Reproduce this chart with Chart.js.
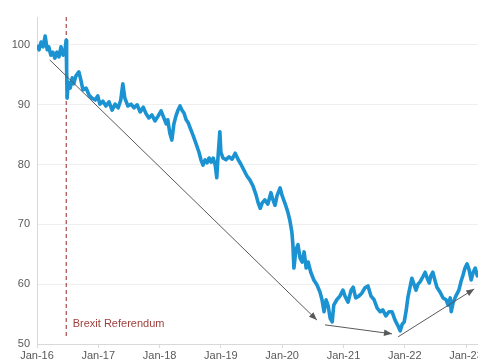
<!DOCTYPE html>
<html>
<head>
<meta charset="utf-8">
<script src="https://cdn.jsdelivr.net/npm/chart.js@4.4.1/dist/chart.umd.min.js"></script>
<style>
  html, body { margin: 0; padding: 0; background: #fff; overflow: hidden; }
  #wrap { width: 478px; height: 361px; overflow: hidden; }
</style>
</head>
<body>
<div id="wrap"><canvas id="gbpChart" width="500" height="361"></canvas></div>
<script>
// months counted from Jan-16
var tickMonths = [0, 12, 24, 36, 48, 60, 72, 84];
var tickLabels = ['Jan-16', 'Jan-17', 'Jan-18', 'Jan-19', 'Jan-20', 'Jan-21', 'Jan-22', 'Jan-23'];
var yTicks = [50, 60, 70, 80, 90, 100];

var months = [0, 0.4, 0.8, 1.2, 1.6, 2.0, 2.3, 2.7, 3.1, 3.5, 3.9, 4.3, 4.7, 5.1, 5.5, 5.7, 5.8, 5.9,
  6.1, 6.5, 6.9, 7.2, 7.6, 8.2, 8.6, 9.0, 9.6, 10.2, 10.8, 11.4, 11.9, 12.3, 12.9, 13.5, 14.1, 14.7,
  15.3, 15.9, 16.4, 16.8, 17.2, 17.8, 18.4, 19.0, 19.6, 20.2, 20.8, 21.3, 21.9, 22.5, 23.1, 23.7,
  24.3, 24.7, 25.3, 25.6, 26.0, 26.4, 26.8, 27.2, 27.6, 28.0, 28.4, 28.8, 29.2, 29.6, 30.0, 30.5,
  31.1, 31.7, 32.1, 32.5, 32.9, 33.3, 33.7, 34.1, 34.5, 34.9, 35.2, 35.4, 35.8, 36.0, 36.4, 37.0,
  37.6, 38.2, 38.8, 39.4, 39.9, 40.5, 41.1, 41.7, 42.3, 42.9, 43.3, 43.7, 44.1, 44.6, 45.2, 45.8,
  46.2, 46.6, 47.0, 47.6, 48.0, 48.6, 49.1, 49.5, 49.9, 50.1, 50.3, 50.7, 51.1, 51.5, 51.9, 52.3,
  52.7, 53.1, 53.6, 54.2, 54.8, 55.4, 55.8, 56.2, 56.6, 57.0, 57.4, 57.8, 58.1, 58.7, 59.3, 59.9,
  60.3, 60.9, 61.5, 61.9, 62.4, 63.0, 63.6, 64.2, 64.8, 65.4, 66.0, 66.6, 67.2, 67.7, 68.3, 68.9,
  69.5, 70.1, 70.7, 71.1, 71.5, 71.9, 72.3, 72.6, 73.0, 73.4, 73.8, 74.2, 74.6, 75.0, 75.4, 76.0,
  76.4, 76.8, 77.1, 77.5, 77.9, 78.3, 78.9, 79.5, 80.1, 80.5, 80.9, 81.1, 81.5, 82.0, 82.6, 83.0,
  83.4, 83.8, 84.2, 84.6, 85.0, 85.4, 85.8, 86.2, 86.5];
var values = [100, 99.2, 100.5, 99.7, 101.5, 99.2, 99.7, 98.3, 98.8, 97.8, 98.8, 98.0, 99.7, 98.3, 99.2, 100.8, 95.8, 91.1,
  93.8, 92.8, 94.5, 93.5, 94.8, 95.5, 94.1, 92.5, 92.8, 91.6, 91.1, 90.8, 91.5, 90.1, 90.6, 89.8, 90.5, 89.1,
  90.1, 89.5, 90.8, 93.5, 91.1, 89.8, 90.1, 89.5, 90.0, 88.8, 89.6, 88.6, 87.8, 88.3, 87.3, 88.1,
  89.0, 88.1, 86.8, 87.5, 85.3, 84.1, 86.8, 88.1, 89.1, 89.8, 89.1, 88.6, 87.5, 87.0, 86.1, 85.0,
  83.6, 82.1, 80.8, 79.9, 80.8, 80.3, 81.1, 80.4, 81.1, 79.9, 77.8, 80.8, 85.5, 82.1, 81.1, 80.8,
  81.3, 80.9, 81.9, 80.8, 80.1, 79.1, 78.1, 77.4, 76.4, 74.9, 73.6, 72.7, 73.6, 74.1, 73.4, 75.3,
  74.1, 73.2, 74.8, 76.1, 74.8, 73.4, 72.1, 70.7, 68.7, 66.6, 62.7, 65.8, 66.6, 64.4, 63.7, 65.4,
  62.7, 63.7, 62.0, 60.7, 59.9, 58.7, 57.4, 55.4, 57.4, 56.4, 54.3, 53.7, 56.5, 57.4, 58.0, 59.0,
  58.0, 57.0, 59.0, 59.5, 57.7, 58.0, 58.5, 59.4, 59.7, 58.0, 57.4, 56.0, 55.4, 55.7, 54.7, 55.4,
  55.4, 54.0, 53.0, 52.2, 53.3, 53.7, 55.7, 57.7, 59.4, 61.0, 60.0, 59.0, 60.0, 60.4, 61.0, 62.0,
  61.0, 60.2, 61.4, 62.0, 60.7, 59.5, 58.7, 57.7, 57.4, 56.5, 57.7, 55.4, 57.0, 58.0, 59.0, 60.4,
  61.5, 62.7, 63.4, 62.4, 60.7, 62.0, 62.7, 61.4, 62.0];

var brexitMonth = 5.73;
var brexitLabel = 'Brexit Referendum';
var brexitLabelPos = { x: 7.0, y: 53.4 };

var arrow1 = [{ x: 2.5, y: 97.5 }, { x: 54.8, y: 54.0 }];
var arrow2 = [{ x: 56.4, y: 53.2 }, { x: 69.5, y: 51.7 }];
var arrow3 = [{ x: 70.7, y: 51.2 }, { x: 85.6, y: 59.2 }];

var xMin = 0, xMax = 90.65;
var yMin = 50, yMax = 104.68;

var seriesPoints = months.map(function (m, i) { return { x: m, y: values[i] }; });

// arrowheads + referendum label
var annotations = {
    id: 'annotations',
    afterDatasetsDraw: function (chart) {
        var ctx = chart.ctx;
        var xs = chart.scales.x, ys = chart.scales.y;
        ctx.save();
        [arrow1, arrow2, arrow3].forEach(function (a) {
            var x0 = xs.getPixelForValue(a[0].x), y0 = ys.getPixelForValue(a[0].y);
            var x1 = xs.getPixelForValue(a[1].x), y1 = ys.getPixelForValue(a[1].y);
            var ang = Math.atan2(y1 - y0, x1 - x0);
            var len = 8, w = 3.2;
            ctx.fillStyle = '#595959';
            ctx.beginPath();
            ctx.moveTo(x1, y1);
            ctx.lineTo(x1 - len * Math.cos(ang) + w * Math.sin(ang), y1 - len * Math.sin(ang) - w * Math.cos(ang));
            ctx.lineTo(x1 - len * Math.cos(ang) - w * Math.sin(ang), y1 - len * Math.sin(ang) + w * Math.cos(ang));
            ctx.closePath();
            ctx.fill();
        });
        ctx.fillStyle = '#a0403c';
        ctx.font = '11px "Liberation Sans", Arial, sans-serif';
        ctx.textAlign = 'left';
        ctx.textBaseline = 'middle';
        ctx.fillText(brexitLabel, xs.getPixelForValue(brexitLabelPos.x), ys.getPixelForValue(brexitLabelPos.y));
        ctx.restore();
    }
};

function arrowSet(pts) {
    return {
        data: pts,
        borderColor: '#595959',
        borderWidth: 1,
        pointRadius: 0,
        fill: false,
        order: 0
    };
}

document.addEventListener("DOMContentLoaded", () => {
    const canvas = document.querySelector('#gbpChart');
    Chart.defaults.font.family = '"Liberation Sans", Arial, sans-serif';
    Chart.defaults.font.size = 11;
    Chart.defaults.color = '#595959';

    new Chart(canvas, {
        type: 'line',
        data: {
            datasets: [
                arrowSet(arrow1),
                arrowSet(arrow2),
                arrowSet(arrow3),
                {
                    data: seriesPoints,
                    borderColor: '#1b93d2',
                    borderWidth: 3.6,
                    borderJoinStyle: 'round',
                    pointRadius: 0,
                    tension: 0,
                    fill: false,
                    order: 1
                },
                {
                    data: [{ x: brexitMonth, y: yMax }, { x: brexitMonth, y: 51.3 }],
                    borderColor: '#a34b4b',
                    borderWidth: 1.2,
                    borderDash: [4, 3],
                    pointRadius: 0,
                    fill: false,
                    order: 2
                }
            ]
        },
        options: {
            responsive: false,
            animation: false,
            layout: { padding: { top: 17, left: 0, right: 0, bottom: 0 } },
            scales: {
                x: {
                    type: 'linear',
                    min: xMin,
                    max: xMax,
                    afterBuildTicks: function (s) { s.ticks = tickMonths.map(function (v) { return { value: v }; }); },
                    afterFit: function (s) { s.height = 17; },
                    ticks: {
                        padding: 1,
                        maxRotation: 0,
                        autoSkip: false,
                        callback: function (v) { var i = tickMonths.indexOf(v); return i >= 0 ? tickLabels[i] : ''; }
                    },
                    grid: { drawOnChartArea: false, drawTicks: true, tickLength: 4, color: '#d9d9d9' },
                    border: { color: '#d9d9d9' }
                },
                y: {
                    min: yMin,
                    max: yMax,
                    afterBuildTicks: function (s) { s.ticks = yTicks.map(function (v) { return { value: v }; }); },
                    afterFit: function (s) { s.width = 37; },
                    ticks: { padding: 7 },
                    grid: { drawTicks: false, color: '#efefef' },
                    border: { color: '#d9d9d9' }
                }
            },
            plugins: {
                legend: { display: false },
                tooltip: { enabled: false }
            }
        },
        plugins: [annotations]
    });
});
</script>
</body>
</html>
